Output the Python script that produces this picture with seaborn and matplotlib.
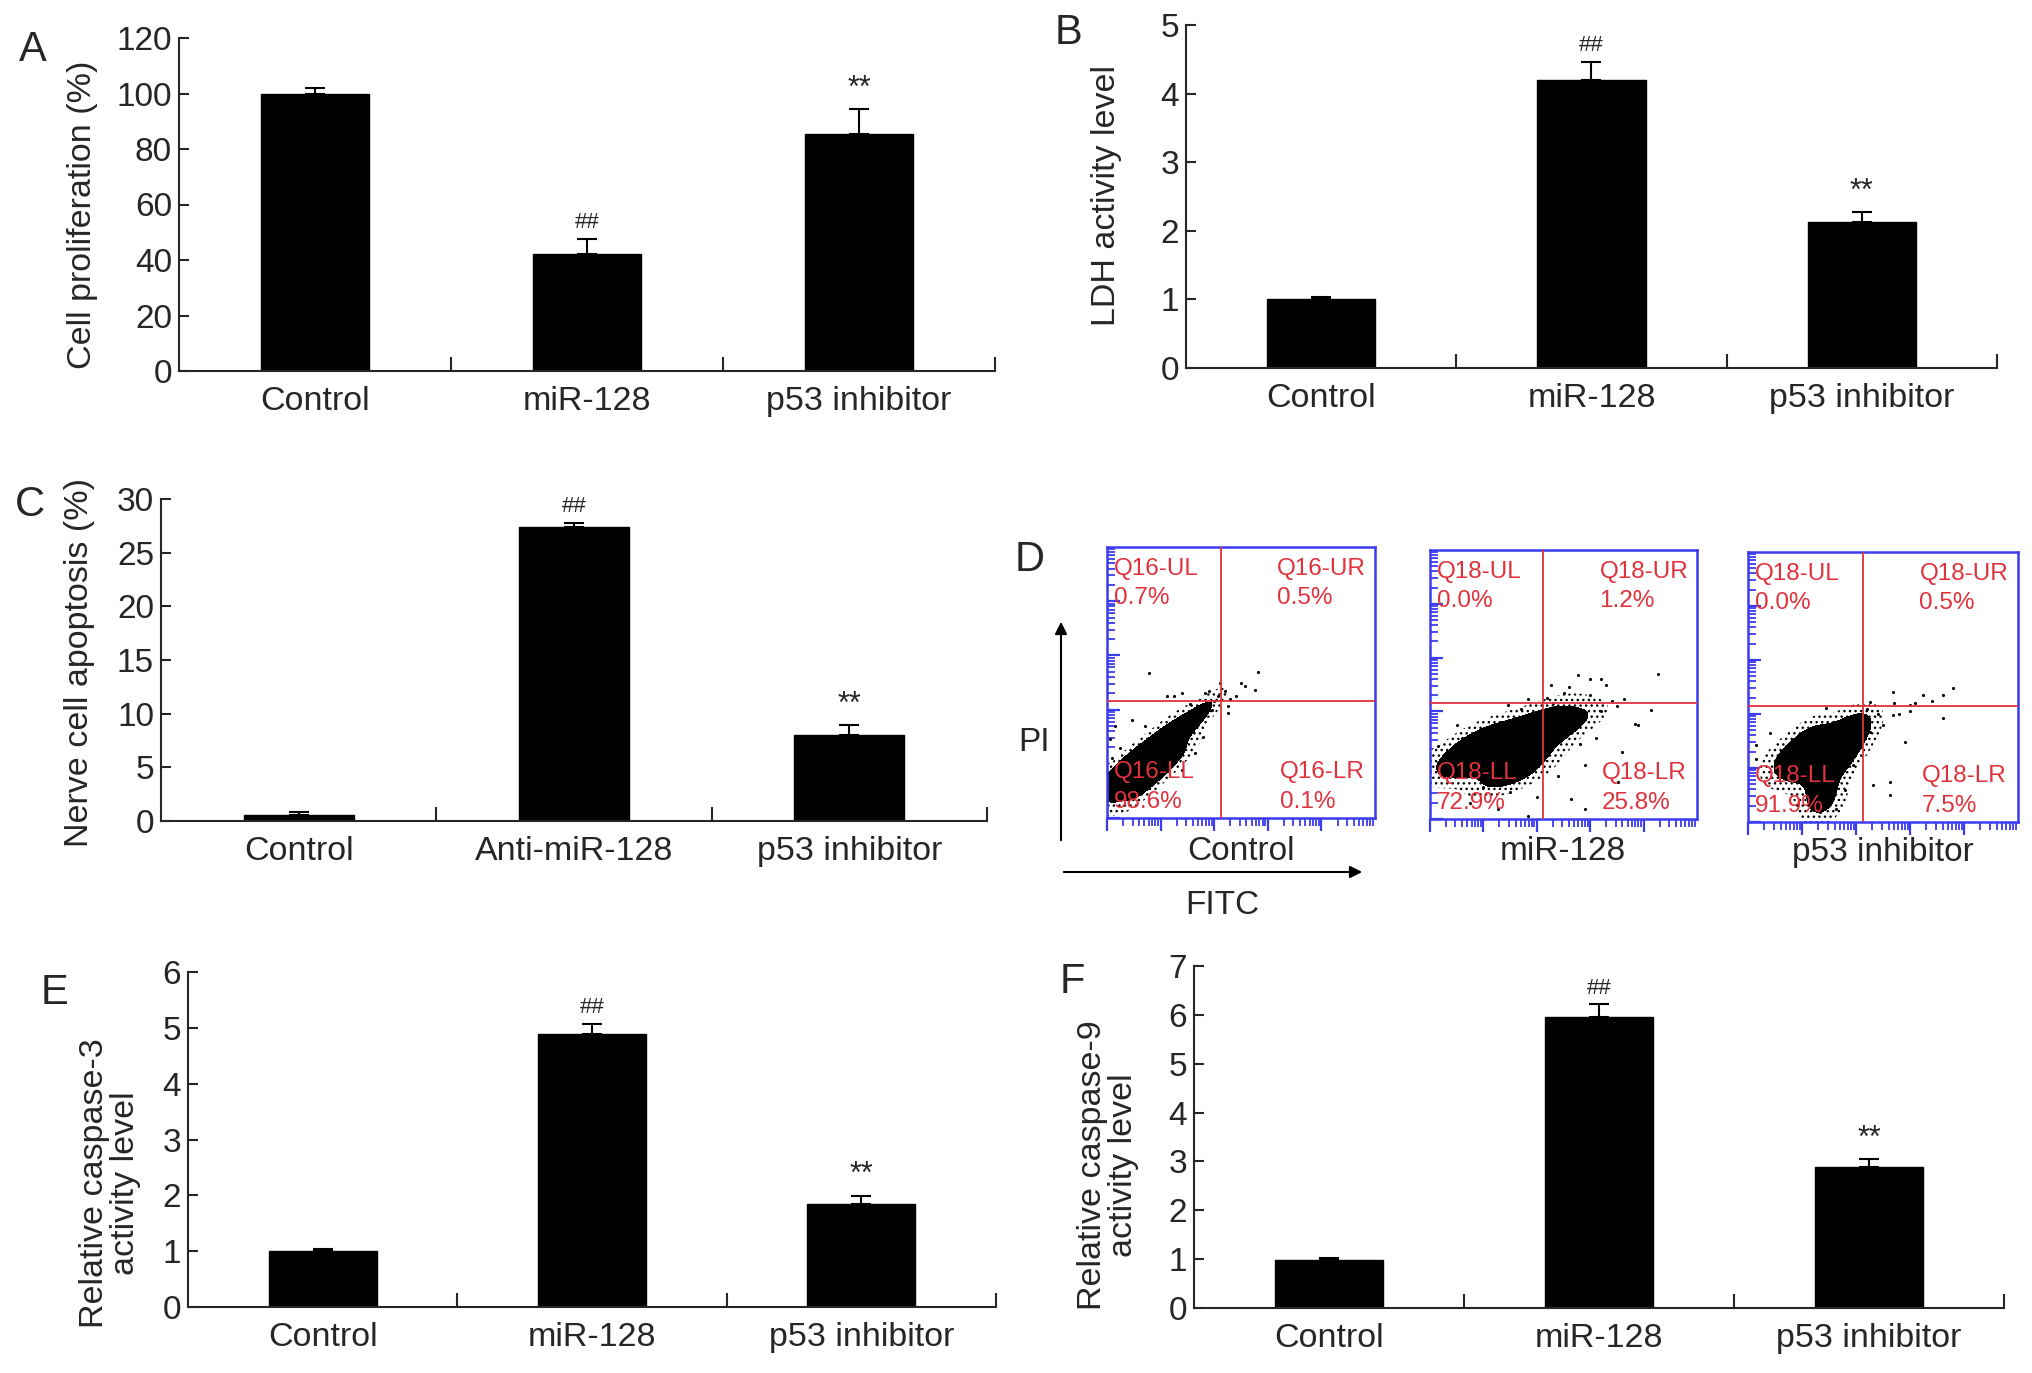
import numpy as np
import matplotlib
matplotlib.use("Agg")
import matplotlib.pyplot as plt
from matplotlib.colors import ListedColormap
from matplotlib.patches import FancyArrowPatch
import seaborn as sns

# ---- bar chart data ----
groups = ["Control", "miR-128", "p53 inhibitor"]
groups_apop = ["Control", "Anti-miR-128", "p53 inhibitor"]
marks = ["", "##", "**"]

prolif_mean = [100.0, 42.0, 85.5]
prolif_err = [2.0, 5.7, 8.8]
ldh_mean = [1.0, 4.2, 2.13]
ldh_err = [0.04, 0.26, 0.14]
apop_mean = [0.6, 27.4, 8.0]
apop_err = [0.2, 0.4, 0.9]
casp3_mean = [1.0, 4.89, 1.84]
casp3_err = [0.03, 0.18, 0.15]
casp9_mean = [0.99, 5.96, 2.88]
casp9_err = [0.03, 0.26, 0.17]

# ---- flow cytometry panel (D) ----
flow_samples = ["Control", "miR-128", "p53 inhibitor"]
flow_ids = ["Q16", "Q18", "Q18"]
flow_ul = ["0.7%", "0.0%", "0.0%"]
flow_ur = ["0.5%", "1.2%", "0.5%"]
flow_ll = ["98.6%", "72.9%", "91.9%"]
flow_lr = ["0.1%", "25.8%", "7.5%"]
gate_x = 0.425
gate_y = 0.43

# dense cloud cores (fraction of plot box, x = FITC, y = PI)
core_ctrl_x = [0.05, 0.10, 0.15, 0.20, 0.25, 0.30, 0.35, 0.13, 0.19, 0.22, 0.26, 0.08, 0.12, 0.03]
core_ctrl_y = [0.10, 0.15, 0.20, 0.25, 0.30, 0.34, 0.39, 0.24, 0.17, 0.32, 0.23, 0.20, 0.10, 0.16]
core_mir_x = [0.12, 0.18, 0.24, 0.30, 0.36, 0.42, 0.48, 0.54, 0.22, 0.28, 0.34, 0.40,
              0.16, 0.46, 0.34, 0.26, 0.08]
core_mir_y = [0.19, 0.22, 0.25, 0.27, 0.29, 0.31, 0.34, 0.37, 0.32, 0.20, 0.35, 0.24,
              0.28, 0.40, 0.17, 0.15, 0.22]
core_p53_x = [0.18, 0.22, 0.26, 0.30, 0.34, 0.38, 0.42, 0.24, 0.32, 0.27, 0.27, 0.20, 0.36,
              0.12, 0.28]
core_p53_y = [0.20, 0.23, 0.26, 0.28, 0.31, 0.33, 0.36, 0.31, 0.22, 0.16, 0.11, 0.27, 0.26,
              0.22, 0.06]

# sparse events around the cores
halo_ctrl_x = [0.01, 0.01, 0.06, 0.17, 0.155, 0.565, 0.516, 0.553, 0.453, 0.416, 0.366, 0.28,
               0.224, 0.093, 0.031, 0.28, 0.33, 0.453, 0.50, 0.44, 0.40, 0.02, 0.10, 0.36,
               0.48, 0.38, 0.05, 0.14, 0.42, 0.46, 0.39, 0.31, 0.25]
halo_ctrl_y = [0.29, 0.17, 0.09, 0.13, 0.535, 0.54, 0.486, 0.474, 0.412, 0.449, 0.461, 0.461,
               0.449, 0.363, 0.338, 0.178, 0.24, 0.387, 0.50, 0.47, 0.43, 0.22, 0.08, 0.30,
               0.45, 0.47, 0.26, 0.34, 0.50, 0.44, 0.40, 0.42, 0.45]
halo_mir_x = [0.031, 0.068, 0.255, 0.367, 0.579, 0.704, 0.828, 0.853, 0.641, 0.554, 0.455,
              0.367, 0.293, 0.766, 0.728, 0.779, 0.056, 0.479, 0.529, 0.60, 0.66, 0.70, 0.62,
              0.40, 0.30, 0.20, 0.12, 0.10, 0.58, 0.50, 0.46, 0.34, 0.72, 0.64, 0.15,
              0.60, 0.52, 0.44, 0.68, 0.56]
halo_mir_y = [0.273, 0.161, 0.037, 0.012, 0.037, 0.137, 0.404, 0.54, 0.522, 0.534, 0.497,
              0.447, 0.422, 0.354, 0.447, 0.348, 0.224, 0.161, 0.075, 0.46, 0.50, 0.42, 0.30,
              0.08, 0.10, 0.12, 0.30, 0.35, 0.20, 0.47, 0.43, 0.41, 0.25, 0.40, 0.06,
              0.52, 0.49, 0.45, 0.44, 0.28]
halo_p53_x = [0.031, 0.031, 0.105, 0.216, 0.265, 0.327, 0.451, 0.537, 0.599, 0.648, 0.759,
              0.722, 0.537, 0.451, 0.29, 0.525, 0.525, 0.463, 0.722, 0.58, 0.389, 0.50, 0.56,
              0.62, 0.08, 0.14, 0.30, 0.36, 0.44, 0.68, 0.48, 0.54, 0.60]
halo_p53_y = [0.285, 0.235, 0.186, 0.111, 0.037, 0.05, 0.334, 0.396, 0.433, 0.47, 0.495,
              0.47, 0.483, 0.446, 0.421, 0.099, 0.149, 0.136, 0.384, 0.297, 0.21, 0.36, 0.40,
              0.44, 0.33, 0.28, 0.16, 0.12, 0.42, 0.45, 0.40, 0.44, 0.41]

flow_core = [(core_ctrl_x, core_ctrl_y), (core_mir_x, core_mir_y), (core_p53_x, core_p53_y)]
flow_halo = [(halo_ctrl_x, halo_ctrl_y), (halo_mir_x, halo_mir_y), (halo_p53_x, halo_p53_y)]

W, H = 2032, 1373
sns.set_style("ticks")
plt.rcParams["font.family"] = ["Liberation Sans", "DejaVu Sans"]
plt.rcParams["axes.linewidth"] = 1.5
plt.rcParams["hatch.color"] = "black"
plt.rcParams["hatch.linewidth"] = 1.0

fig = plt.figure(figsize=(W / 100, H / 100), dpi=100)


def box(l, r, t, b):
    return [l / W, 1 - b / H, (r - l) / W, (b - t) / H]


def ftext(x, y, s, **kw):
    fig.text(x / W, 1 - y / H, s, **kw)


def bar_panel(rect, cats, means, errs, ymax, step, letter, lpos, ylabel, ypos):
    ax = fig.add_axes(rect)
    sns.barplot(x=cats, y=means, color="black", width=0.4, saturation=1,
                edgecolor="black", ax=ax)
    ax.errorbar(range(3), means, yerr=[[0] * 3, errs], fmt="none", ecolor="black",
                elinewidth=1.5, capsize=7, capthick=1.5)
    for i, m in enumerate(marks):
        if m:
            ax.annotate(m, (i, means[i] + errs[i]), xytext=(0, 4), textcoords="offset points",
                        ha="center", va="bottom", fontsize=16 if m == "##" else 22)
    ax.set_xlim(-0.5, 2.5)
    ax.set_ylim(0, ymax)
    ax.set_yticks(np.arange(0, ymax + step / 2, step))
    ax.set_xticks([0.5, 1.5, 2.5], minor=True)
    sns.despine(ax=ax)
    ax.tick_params(axis="y", direction="in", length=7, width=1.5, labelsize=24, pad=5)
    ax.tick_params(axis="x", which="major", length=0, labelsize=24.5, pad=11)
    ax.tick_params(axis="x", which="minor", direction="in", length=10, width=1.5)
    ax.set_xlabel("")
    ax.set_ylabel("")
    ftext(lpos[0], lpos[1], letter, fontsize=30, ha="center", va="center")
    ftext(ypos[0], ypos[1], ylabel, fontsize=24.5, rotation=90, ha="center", va="center",
          linespacing=1.0)
    return ax


bar_panel(box(179, 995, 38, 371), groups, prolif_mean, prolif_err, 120, 20,
          "A", (33, 50), "Cell proliferation (%)", (83, 215))
bar_panel(box(1186, 1997, 25, 368), groups, ldh_mean, ldh_err, 5, 1,
          "B", (1069, 33), "LDH activity level", (1107, 195))
bar_panel(box(161, 987, 499, 821), groups_apop, apop_mean, apop_err, 30, 5,
          "C", (30, 505), "Nerve cell apoptosis (%)", (80, 662))
bar_panel(box(188, 996, 972, 1307), groups, casp3_mean, casp3_err, 6, 1,
          "E", (54, 993), "Relative caspase-3\nactivity level", (110, 1183))
bar_panel(box(1194, 2004, 966, 1308), groups, casp9_mean, casp9_err, 7, 1,
          "F", (1072, 982), "Relative caspase-9\nactivity level", (1108, 1165))

# ---- panel D ----
blue = "#3b3bf0"
red = "#e0323c"
flow_boxes = [(1107, 1375, 547, 818), (1430, 1697, 550, 819), (1748, 2018, 552, 822)]
label_x = [1241, 1563, 1883]
decade_ticks = [(d + np.log10(k)) / 5 for d in range(5) for k in range(1, 10)]
major_ticks = [d / 5 for d in range(5)]

for i, fb in enumerate(flow_boxes):
    ax = fig.add_axes(box(*fb))
    cx, cy = flow_core[i]
    hx, hy = flow_halo[i]
    # speckled fringe: outer density band filled with a dot hatch
    n0 = len(ax.collections)
    sns.kdeplot(x=cx, y=cy, fill=True, levels=[0.05, 1.0], bw_adjust=1.0,
                cmap=ListedColormap(["white"]), ax=ax)
    for coll in ax.collections[n0:]:
        coll.set_hatch("...")
        coll.set_edgecolor("black")
        coll.set_linewidth(0)
    # solid dense core
    sns.kdeplot(x=cx, y=cy, fill=True, levels=[0.22, 1.0], bw_adjust=1.0,
                cmap=ListedColormap(["black"]), ax=ax)
    sns.scatterplot(x=hx, y=hy, s=5, color="black", marker="o", linewidth=0, ax=ax,
                    zorder=3)
    ax.axvline(gate_x, color=red, lw=1.3, zorder=4)
    ax.axhline(gate_y, color=red, lw=1.3, zorder=4)
    ax.set_xlim(0, 1)
    ax.set_ylim(0, 1)
    for sp in ax.spines.values():
        sp.set_color(blue)
        sp.set_linewidth(1.8)
    ax.set_xticks(decade_ticks, minor=True)
    ax.set_yticks(decade_ticks, minor=True)
    ax.set_xticks(major_ticks)
    ax.set_yticks(major_ticks)
    ax.tick_params(axis="x", which="both", direction="out", color=blue, labelbottom=False)
    ax.tick_params(axis="x", which="major", length=9, width=1.6)
    ax.tick_params(axis="x", which="minor", length=6, width=1.3)
    ax.tick_params(axis="y", which="both", direction="in", color=blue, labelleft=False)
    ax.tick_params(axis="y", which="major", length=9, width=1.6)
    ax.tick_params(axis="y", which="minor", length=6, width=1.3)
    ax.set_xlabel("")
    ax.set_ylabel("")
    tk = dict(color=red, fontsize=17.5, transform=ax.transAxes, va="center", zorder=5)
    ax.text(0.025, 0.92, flow_ids[i] + "-UL", ha="left", **tk)
    ax.text(0.025, 0.81, flow_ul[i], ha="left", **tk)
    ax.text(0.635, 0.92, flow_ids[i] + "-UR", ha="left", **tk)
    ax.text(0.635, 0.81, flow_ur[i], ha="left", **tk)
    ax.text(0.025, 0.17, flow_ids[i] + "-LL", ha="left", **tk)
    ax.text(0.025, 0.06, flow_ll[i], ha="left", **tk)
    ax.text(0.645, 0.17, flow_ids[i] + "-LR", ha="left", **tk)
    ax.text(0.645, 0.06, flow_lr[i], ha="left", **tk)
    ftext(label_x[i], 852, flow_samples[i], fontsize=24, ha="center", va="center")

ftext(1030, 560, "D", fontsize=30, ha="center", va="center")
ftext(1034, 743, "PI", fontsize=24, ha="center", va="center")
ftext(1222, 905, "FITC", fontsize=24, ha="center", va="center")
fig.add_artist(FancyArrowPatch((1061 / W, 1 - 843 / H), (1061 / W, 1 - 619 / H),
                               transform=fig.transFigure, arrowstyle="-|>",
                               mutation_scale=18, lw=1.5, color="black"))
fig.add_artist(FancyArrowPatch((1061 / W, 1 - 872 / H), (1365 / W, 1 - 872 / H),
                               transform=fig.transFigure, arrowstyle="-|>",
                               mutation_scale=18, lw=1.5, color="black"))

fig.savefig("out.png", dpi=100, facecolor="white")
